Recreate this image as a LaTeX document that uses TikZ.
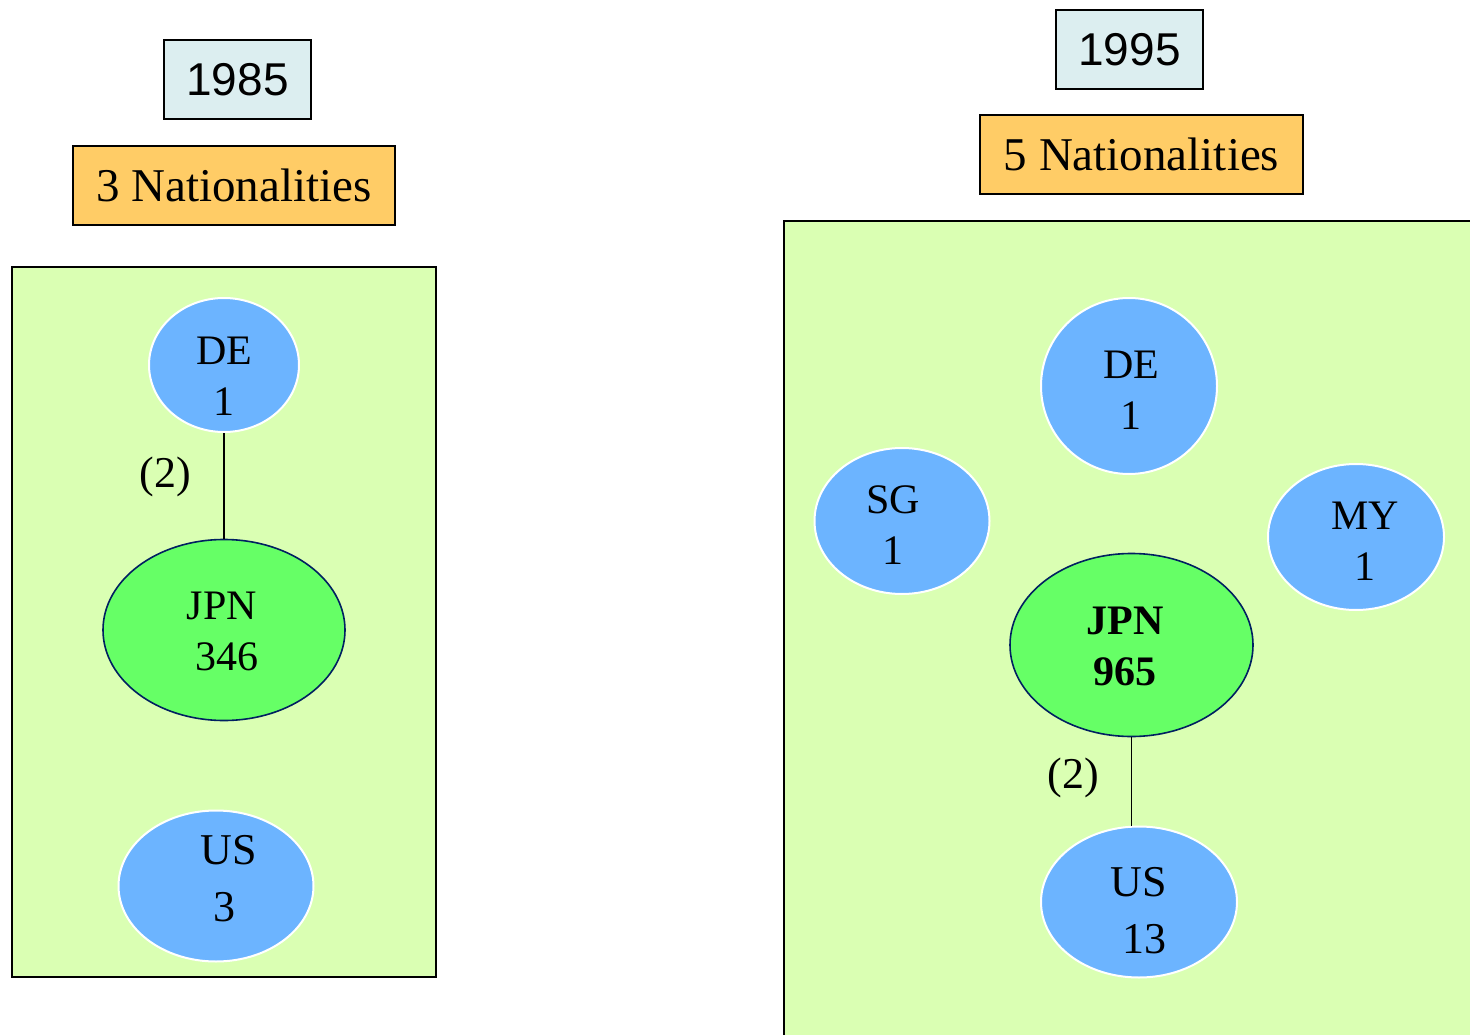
\documentclass[tikz,border=0pt]{standalone}
\usepackage{fontspec}
\setmainfont{Liberation Serif}
\newfontfamily\arialf{Liberation Sans}
\usetikzlibrary{shapes.geometric}
\definecolor{yearfill}{RGB}{220,238,240}
\definecolor{natfill}{RGB}{255,204,102}
\definecolor{panelfill}{RGB}{218,255,179}
\definecolor{blobblue}{RGB}{108,180,255}
\definecolor{blobgreen}{RGB}{102,255,102}
\definecolor{navyline}{RGB}{0,32,96}
\begin{document}
\begin{tikzpicture}[x=1pt,y=-1pt,
  yearbox/.style={draw=black,line width=2pt,fill=yearfill,minimum width=147pt,minimum height=79pt,inner sep=0pt,font=\arialf\fontsize{46}{52}\selectfont},
  natbox/.style={draw=black,line width=2pt,fill=natfill,minimum height=79pt,inner sep=0pt,font=\fontsize{47}{54}\selectfont},
  panel/.style={draw=black,line width=1.6pt,fill=panelfill},
  blob/.style={ellipse,draw=white,line width=2pt,fill=blobblue,inner sep=0pt},
  core/.style={ellipse,draw=navyline,line width=1.6pt,fill=blobgreen,inner sep=0pt},
  lbl/.style={align=center,inner sep=0pt,font=\fontsize{42}{51}\selectfont},
  lblus/.style={align=center,inner sep=0pt,font=\fontsize{44}{57}\selectfont},
  edgelbl/.style={inner sep=0pt,font=\fontsize{44}{50}\selectfont},
  link/.style={draw=black,line width=1.8pt}]
\useasboundingbox (0,0) rectangle (1470,1035);
\clip (0,0) rectangle (1470,1035);

% ---- 1985 ----
\node[yearbox] (y85) at (237.5,79.5) {1985};
\node[natbox,minimum width=322pt] (n85) at (234,185.5) {3 Nationalities};
\draw[panel] (12,267) rectangle (436,977);

\node[blob,minimum width=150pt,minimum height=134pt] (de85) at (224,365) {};
\node[core,minimum width=242pt,minimum height=181pt] (jpn85) at (224,630) {};
\node[blob,minimum width=195pt,minimum height=151pt] (us85) at (216,886) {};

\node[lbl] (de85t) at (224,376) {DE\\1};
\node[lbl] (jpn85t) at (222,631) {JPN\\\hspace*{10pt}346};
\node[lblus] (us85t) at (224,879) {\hspace*{10pt}US\\3};

\draw[link] (de85.south) -- (jpn85.north);
\node[edgelbl] (e85) at (165,477) {(2)};

% ---- 1995 ----
\node[yearbox] (y95) at (1129.5,49.5) {1995};
\node[natbox,minimum width=323pt] (n95) at (1141.5,154.5) {5 Nationalities};
\draw[panel] (784,221) rectangle (1490,1060);

\node[blob,minimum width=176pt,minimum height=176pt] (de95) at (1129,386) {};
\node[blob,minimum width=175pt,minimum height=146pt] (sg95) at (902,521) {};
\node[blob,minimum width=176pt,minimum height=146pt] (my95) at (1356,537) {};
\node[core,minimum width=243pt,minimum height=183pt] (jpn95) at (1131.5,645) {};
\node[blob,minimum width=196pt,minimum height=151pt] (us95) at (1139,902) {};

\node[lbl] (de95t) at (1131,390) {DE\\1};
\node[lbl] (sg95t) at (893,525) {SG\\1};
\node[lbl] (my95t) at (1365,541) {MY\\1};
\node[lbl,font=\bfseries\fontsize{42}{51}\selectfont] (jpn95t) at (1125,646) {JPN\\965};
\node[lblus] (us95t) at (1139,911) {US\\\hspace*{10pt}13};

\draw[link] (jpn95.south) -- (jpn95.south |- us95.north);
\node[edgelbl] (e95) at (1073,778) {(2)};
\end{tikzpicture}
\end{document}
